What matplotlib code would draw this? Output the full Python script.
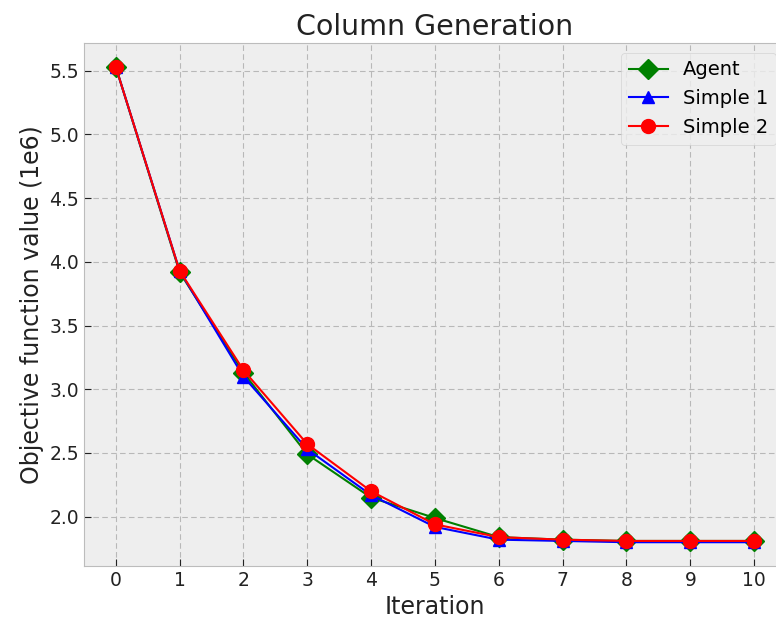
import matplotlib
matplotlib.use("Agg")
import matplotlib.pyplot as plt

plt.style.use('bmh')

iterations = list(range(11))
agent = [5.53, 3.92, 3.13, 2.49, 2.15, 1.99, 1.84, 1.82, 1.81, 1.81, 1.81]
simple1 = [5.53, 3.93, 3.10, 2.53, 2.17, 1.92, 1.82, 1.81, 1.80, 1.80, 1.80]
simple2 = [5.53, 3.93, 3.15, 2.57, 2.20, 1.94, 1.84, 1.82, 1.81, 1.81, 1.81]

fig = plt.figure(figsize=(7.76, 6.23), dpi=100)
ax = fig.add_axes([0.108, 0.0915, 0.905, 0.8395])

ax.plot(iterations, agent, color='green', marker='D', markersize=10, linewidth=1.5, label='Agent')
ax.plot(iterations, simple1, color='blue', marker='^', markersize=9, linewidth=1.5, label='Simple 1')
ax.plot(iterations, simple2, color='red', marker='o', markersize=10, linewidth=1.5, label='Simple 2')

ax.set_xticks(iterations)
ax.tick_params(labelsize=13.5, direction='in', length=5, colors='#222222')
ax.grid(True, linestyle=(0, (5, 3)), linewidth=0.8, color='#b8b8b8')
ax.set_xlabel('Iteration', fontsize=17, color='#222222')
ax.set_ylabel('Objective function value (1e6)', fontsize=17, color='#222222')
ax.set_title('Column Generation', fontsize=20.5, color='#222222')
ax.legend(loc='upper right', fontsize=14)

fig.savefig('out.png', dpi=100)
